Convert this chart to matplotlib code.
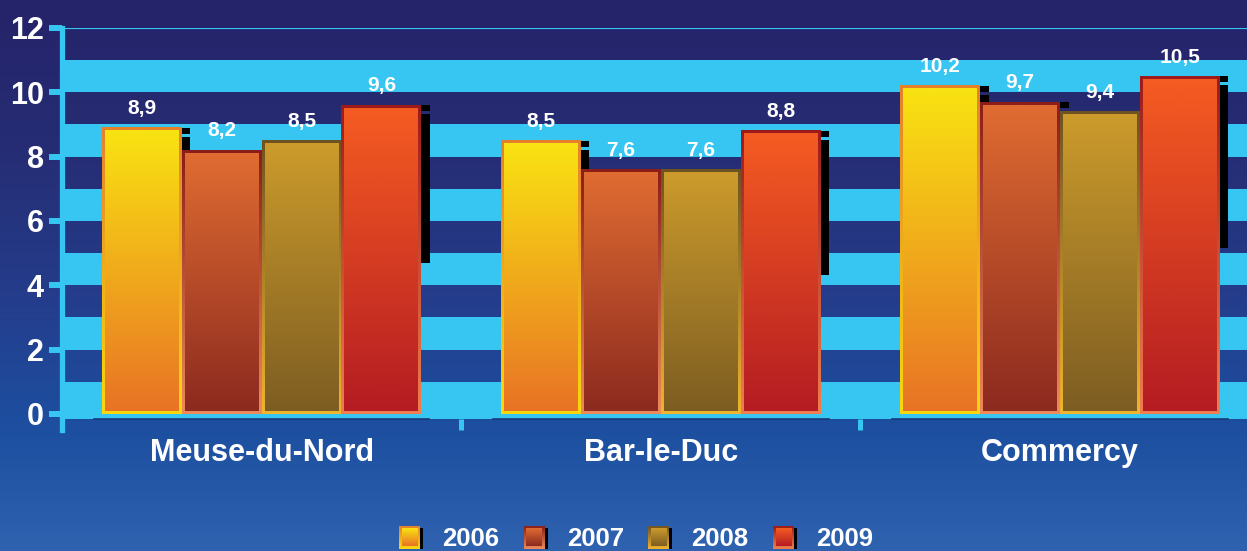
import numpy as np
import matplotlib
matplotlib.use('Agg')
import matplotlib.pyplot as plt
from matplotlib.colors import to_rgb

# ---------------- data ----------------
categories = ['Meuse-du-Nord', 'Bar-le-Duc', 'Commercy']
years = ['2006', '2007', '2008', '2009']
v2006 = [8.9, 8.5, 10.2]
v2007 = [8.2, 7.6, 9.7]
v2008 = [8.5, 7.6, 9.4]
v2009 = [9.6, 8.8, 10.5]
series = [v2006, v2007, v2008, v2009]
yticks = [0, 2, 4, 6, 8, 10, 12]

# ---------------- style ----------------
FONT = 'Liberation Sans'
CYAN = '#37c6f2'
fill_cols = [('#f9e312', '#e87325'), ('#e06c32', '#8c2a1f'),
             ('#cc9b2c', '#7d5d22'), ('#f55c22', '#b41c22')]
edge_cols = [('#e5802a', '#f8d80c'), ('#8a1d18', '#ee8a5a'),
             ('#6e5222', '#f0b52c'), ('#9c1a1a', '#f07e4e')]

W, H = 1247, 551
fig = plt.figure(figsize=(W / 100, H / 100), dpi=100)


def grad_img(ctop, cbot, n=256):
    t = np.linspace(0, 1, n)[:, None, None]
    c0 = np.array(to_rgb(ctop))[None, None, :]
    c1 = np.array(to_rgb(cbot))[None, None, :]
    return c0 * (1 - t) + c1 * t


def vgrad(ax, x0, x1, y0, y1, ctop, cbot, zorder):
    ax.imshow(grad_img(ctop, cbot), extent=(x0, x1, y0, y1), origin='upper',
              aspect='auto', zorder=zorder, interpolation='bilinear')


# background gradient
bg = fig.add_axes([0, 0, 1, 1], zorder=-10)
stops_y = np.array([0, 150, 300, 430, 551]) / H
stops_c = np.array([to_rgb(c) for c in ['#25236a', '#262d74', '#243d8c', '#1d4fa0', '#2f62af']])
yy = np.linspace(0, 1, 400)
img = np.stack([np.interp(yy, stops_y, stops_c[:, k]) for k in range(3)], axis=1)[:, None, :]
bg.imshow(img, extent=(0, 1, 0, 1), origin='upper', aspect='auto')
bg.set_axis_off()

# main axes: y 12 -> px 28, y -0.5 -> px 430 ; x -0.5 -> px 62
y_top_px, y_bot_px = 28, 430
x_left_px = 62
ax = fig.add_axes([x_left_px / W, (H - y_bot_px) / H, 1 - x_left_px / W, (y_bot_px - y_top_px) / H])
ax.set_facecolor('none')

# cyan bands
for lo, hi in [(10, 11), (8, 9), (6, 7), (4, 5), (2, 3), (-0.15, 1)]:
    ax.axhspan(lo, hi, color=CYAN, zorder=0.5, lw=0)
ax.axhline(12, color=CYAN, lw=1.6, zorder=0.6)

bw = 0.2
dx = 3 / 399.5
dy = 3 / 32.17
for i in range(len(categories)):
    for j, vals in enumerate(series):
        v = vals[i]
        xc = i + (j - 1.5) * bw
        x0, x1 = xc - bw / 2, xc + bw / 2
        # shadow (partly hidden by next bar)
        sw = 0.021
        ax.fill_between([x1, x1 + sw], v - 0.19, v, color='black', lw=0, zorder=2 + 2 * j)
        ax.fill_between([x1, x1 + sw], v * 0.49, v - 0.28, color='black', lw=0, zorder=2 + 2 * j)
        # bar edge and fill
        vgrad(ax, x0, x1, 0, v, edge_cols[j][0], edge_cols[j][1], 3 + 2 * j)
        vgrad(ax, x0 + dx, x1 - dx, dy, v - dy, fill_cols[j][0], fill_cols[j][1], 3.1 + 2 * j)
        ax.annotate(f'{v:.1f}'.replace('.', ','), (xc, v), xytext=(0, 7),
                    textcoords='offset points', ha='center', va='bottom',
                    fontsize=15, fontweight='bold', color='white', family=FONT, zorder=30)
    # baseline shadow line
    ax.plot([i - 0.42, i + 0.42], [-0.16, -0.16], color='#163a7c', lw=1.2, zorder=1)

ax.set_xlim(-0.5, (W - 261) / 399.5)
ax.set_ylim(-0.5, 12)

for s in ['top', 'right', 'bottom']:
    ax.spines[s].set_visible(False)
ax.spines['left'].set_color(CYAN)
ax.spines['left'].set_linewidth(3.8)
ax.spines['left'].set_zorder(25)

ax.set_yticks(yticks)
ax.set_yticklabels([str(t) for t in yticks])
ax.tick_params(axis='y', direction='out', length=9.5, width=4.3, color=CYAN,
               labelsize=22, labelcolor='white', pad=3.5)
for lab in ax.get_yticklabels():
    lab.set_fontweight('bold')
    lab.set_family(FONT)

ax.set_xticks([0.5, 1.5])
ax.set_xticklabels(['', ''])
ax.tick_params(axis='x', which='major', direction='in', length=8, width=3.6, color=CYAN)
ax.set_xticks([0, 1, 2], minor=True)
ax.set_xticklabels(categories, minor=True)
ax.tick_params(axis='x', which='minor', length=0, pad=6, labelsize=22, labelcolor='white')
for lab in ax.get_xticklabels(minor=True):
    lab.set_fontweight('bold')
    lab.set_family(FONT)

# legend (pixel coordinates overlay)
lax = fig.add_axes([0, 0, 1, 1], zorder=5)
lax.set_xlim(0, W)
lax.set_ylim(H, 0)
lax.set_axis_off()
lax.set_facecolor('none')
for j, yr in enumerate(years):
    sx = 399 + 124.7 * j
    lax.fill_between([sx + 21, sx + 24], 528, 549, color='black', lw=0, zorder=1)
    lax.imshow(grad_img(edge_cols[j][0], edge_cols[j][1]), extent=(sx, sx + 21, 549, 526),
               origin='upper', aspect='auto', zorder=2, interpolation='bilinear')
    lax.imshow(grad_img(fill_cols[j][0], fill_cols[j][1]), extent=(sx + 2.5, sx + 18.5, 546.5, 528.5),
               origin='upper', aspect='auto', zorder=3, interpolation='bilinear')
    lax.text(sx + 43, 538.5, yr, ha='left', va='center', fontsize=18.5,
             fontweight='bold', color='white', family=FONT)
lax.set_xlim(0, W)
lax.set_ylim(H, 0)

fig.savefig('out.png', dpi=100)
